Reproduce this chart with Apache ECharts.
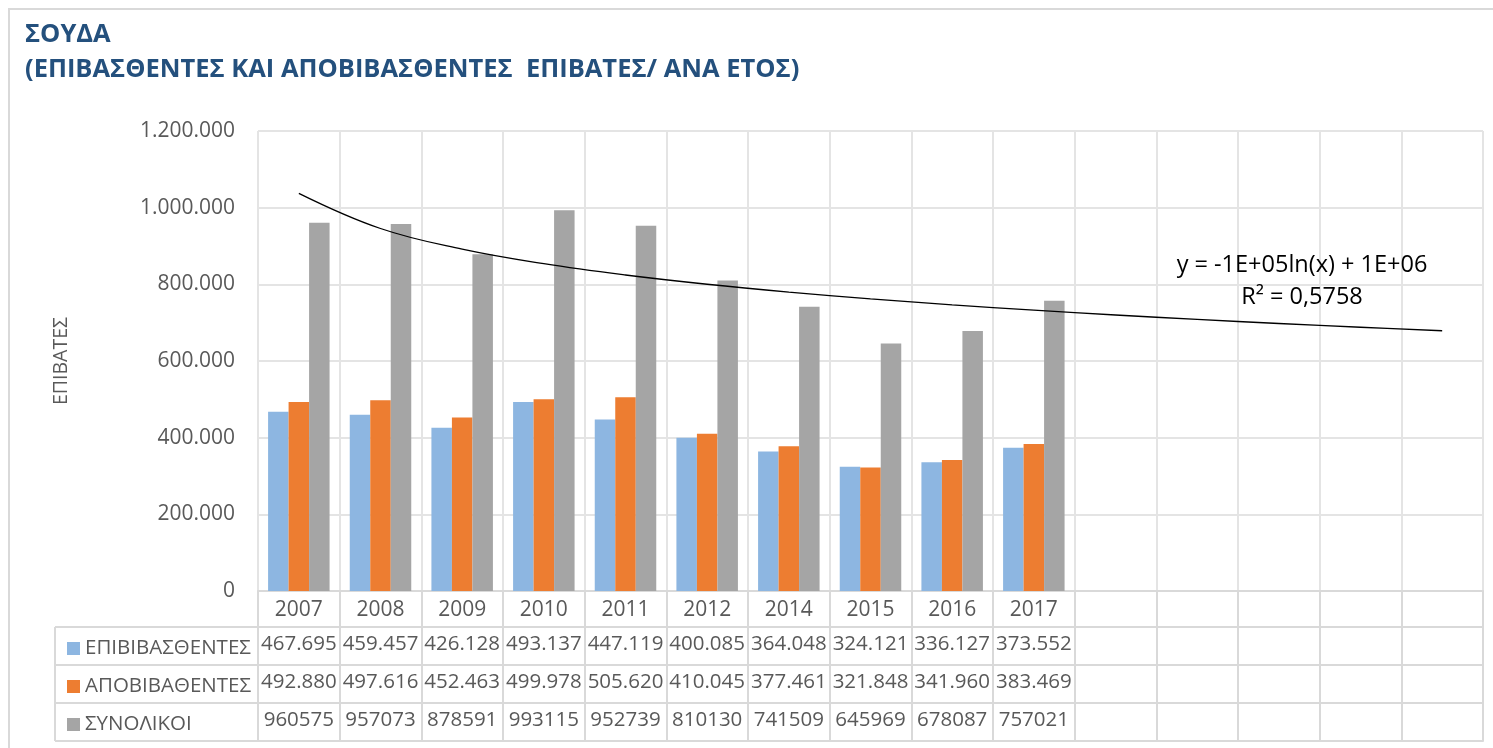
<!DOCTYPE html>
<html>
<head>
<meta charset="utf-8">
<title>ΣΟΥΔΑ</title>
<script src="https://cdn.jsdelivr.net/npm/echarts@6/dist/echarts.min.js"></script>
<style>
  html, body { margin: 0; padding: 0; background: #ffffff; }
  #chart { width: 1493px; height: 748px; }
</style>
</head>
<body>
<div id="chart"></div>
<script>
// Passenger counts per year
const years = ['2007', '2008', '2009', '2010', '2011', '2012', '2014', '2015', '2016', '2017'];
const embarked = [467695, 459457, 426128, 493137, 447119, 400085, 364048, 324121, 336127, 373552];
const disembarked = [492880, 497616, 452463, 499978, 505620, 410045, 377461, 321848, 341960, 383469];
const totals = [960575, 957073, 878591, 993115, 952739, 810130, 741509, 645969, 678087, 757021];
const seriesNames = ['ΕΠΙΒΙΒΑΣΘΕΝΤΕΣ', 'ΑΠΟΒΙΒΑΘΕΝΤΕΣ', 'ΣΥΝΟΛΙΚΟΙ'];
const yTicks = { min: 0, max: 1200000, step: 200000 };
const forecastSlots = 5;           // empty periods the trendline extends into
const trendText = 'y = -1E+05ln(x) + 1E+06';
const r2Text = 'R² = 0,5758';

const FONT = '"Open Sans", "DejaVu Sans", sans-serif';
const TEXT = '#595959';
const LINE = '#d9d9d9';
const GRIDC = '#e4e4e4';

const categories = years.concat(Array(forecastSlots).fill(''));
const pad = arr => arr.concat(Array(forecastSlots).fill(''));
const dots = v => String(Math.round(v)).replace(/\B(?=(\d{3})+(?!\d))/g, '.');

// Logarithmic least-squares fit of the totals: y = a*ln(x) + b, x = 1..n
const lx = totals.map((_, i) => Math.log(i + 1));
const mx = lx.reduce((s, v) => s + v, 0) / lx.length;
const my = totals.reduce((s, v) => s + v, 0) / totals.length;
let sxy = 0, sxx = 0;
lx.forEach((v, i) => { sxy += (v - mx) * (totals[i] - my); sxx += (v - mx) * (v - mx); });
const slope = sxy / sxx;
const intercept = my - slope * mx;
const trend = categories.map((_, i) => slope * Math.log(i + 1) + intercept);

const GRID = { left: 258, right: 10, top: 131, bottom: 157 };
const HEAD_H = 36, ROW_H = 38;
const axisY0 = 748 - GRID.bottom;            // category axis baseline
const tableLeft = 55;

// Data table rows drawn as extra category axes under the plot
const tableRows = [
  embarked.map(dots),
  disembarked.map(dots),
  totals.map(v => String(v))
];

const xAxes = [{
  type: 'category',
  data: categories,
  gridIndex: 0,
  position: 'bottom',
  axisLine: { show: true, lineStyle: { color: LINE, width: 2 } },
  axisTick: { show: true, interval: 0, length: HEAD_H, lineStyle: { color: LINE, width: 2 } },
  axisLabel: { interval: 0, color: TEXT, fontSize: 21, fontFamily: FONT, margin: 9 },
  splitLine: { show: true, interval: 0, lineStyle: { color: GRIDC, width: 2 } }
}];
tableRows.forEach((row, r) => {
  xAxes.push({
    type: 'category',
    data: pad(row),
    gridIndex: 0,
    position: 'bottom',
    offset: HEAD_H + ROW_H * r,
    axisLine: { show: true, lineStyle: { color: LINE, width: 2 } },
    axisTick: { show: true, interval: 0, length: ROW_H, lineStyle: { color: LINE, width: 2 } },
    axisLabel: { interval: 0, color: TEXT, fontSize: 20.5, fontFamily: FONT, margin: 7 },
    splitLine: { show: false }
  });
});
xAxes.push({
  type: 'category',
  data: categories,
  gridIndex: 0,
  position: 'bottom',
  offset: HEAD_H + ROW_H * tableRows.length,
  axisLine: { show: true, lineStyle: { color: LINE, width: 2 } },
  axisTick: { show: false },
  axisLabel: { show: false },
  splitLine: { show: false }
});

// Left part of the table (legend column)
const tableTop = axisY0 + HEAD_H;
const tableBottom = tableTop + ROW_H * tableRows.length;
const tableGraphics = [];
for (let r = 0; r <= tableRows.length; r++) {
  const y = tableTop + ROW_H * r;
  tableGraphics.push({
    type: 'line', silent: true,
    shape: { x1: tableLeft, y1: y, x2: GRID.left, y2: y },
    style: { stroke: LINE, lineWidth: 2 }
  });
}
tableGraphics.push({
  type: 'line', silent: true,
  shape: { x1: tableLeft, y1: tableTop, x2: tableLeft, y2: tableBottom },
  style: { stroke: LINE, lineWidth: 2 }
});

// One legend entry per table row
const legends = seriesNames.map((name, r) => ({
  orient: 'vertical',
  left: 62,
  top: tableTop + ROW_H * r + 6,
  selectedMode: false,
  itemWidth: 13,
  itemHeight: 13,
  icon: 'rect',
  data: [name],
  textStyle: { color: TEXT, fontSize: 20.5, fontFamily: FONT }
}));

const barColors = ['#8DB6E1', '#ED7D31', '#A5A5A5'];
const barData = [embarked, disembarked, totals];

const option = {
  animation: false,
  backgroundColor: '#ffffff',
  title: {
    text: 'ΣΟΥΔΑ\n(ΕΠΙΒΑΣΘΕΝΤΕΣ ΚΑΙ ΑΠΟΒΙΒΑΣΘΕΝΤΕΣ  ΕΠΙΒΑΤΕΣ/ ΑΝΑ ΕΤΟΣ)',
    left: 20,
    top: 12,
    textStyle: { color: '#24507D', fontSize: 25.5, fontWeight: 'bold', fontFamily: FONT, lineHeight: 35 }
  },
  legend: legends,
  grid: { left: GRID.left, right: GRID.right, top: GRID.top, bottom: GRID.bottom, containLabel: false },
  xAxis: xAxes,
  yAxis: {
    type: 'value',
    min: yTicks.min,
    max: yTicks.max,
    interval: yTicks.step,
    name: 'ΕΠΙΒΑΤΕΣ',
    nameLocation: 'middle',
    nameGap: 187,
    nameRotate: 90,
    nameTextStyle: { color: TEXT, fontSize: 19.5, fontFamily: FONT },
    axisLine: { show: false },
    axisTick: { show: false },
    axisLabel: { color: TEXT, fontSize: 21, fontFamily: FONT, margin: 23, formatter: v => dots(v) },
    splitLine: { show: true, lineStyle: { color: GRIDC, width: 2 } }
  },
  series: seriesNames.map((name, i) => ({
    name: name,
    type: 'bar',
    xAxisIndex: 0,
    data: barData[i],
    barWidth: 20.5,
    barGap: '0%',
    itemStyle: { color: barColors[i] },
    z: 2
  })).concat([{
    name: 'trend',
    type: 'line',
    xAxisIndex: 0,
    data: trend,
    smooth: 0.4,
    symbol: 'none',
    lineStyle: { color: '#000000', width: 1.3 },
    z: 5,
    silent: true
  }]),
  graphic: tableGraphics.concat([
    {
      type: 'rect', silent: true, z: -1,
      shape: { x: 9, y: 9, width: 1600, height: 900 },
      style: { fill: 'none', stroke: LINE, lineWidth: 2 }
    },
    {
      type: 'text', silent: true, z: 100,
      x: 1302, y: 265,
      style: { text: trendText, fill: '#000000', fontSize: 23.5, fontFamily: FONT, align: 'center', verticalAlign: 'middle' }
    },
    {
      type: 'text', silent: true, z: 100,
      x: 1302, y: 297,
      style: { text: r2Text, fill: '#000000', fontSize: 23.5, fontFamily: FONT, align: 'center', verticalAlign: 'middle' }
    }
  ])
};

const chart = echarts.init(document.getElementById('chart'), null, { renderer: 'canvas' });
chart.setOption(option);
</script>
</body>
</html>
